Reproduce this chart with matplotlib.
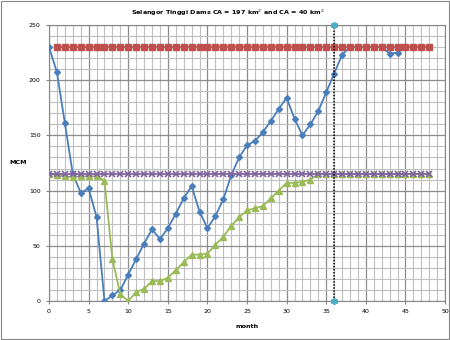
import numpy as np
import matplotlib
matplotlib.use("Agg")
import matplotlib.pyplot as plt
from matplotlib.patches import Rectangle
from matplotlib.ticker import MultipleLocator

# storage of the two dams (MCM) per month
months = list(range(0, 49))
big_dam = [230, 207, 161, 115, 98, 102, 76, 0, 5, 10,
           24, 38, 52, 65, 56, 66, 79, 93, 104, 81,
           66, 77, 92, 114, 130, 141, 145, 153, 163, 174,
           184, 165, 150, 160, 172, 189, 206, 223, 230, 230,
           230, 230, 230, 224, 225, 230, 230, 230, 230]
small_dam = [115, 114, 113, 112, 113, 113, 113, 109, 38, 6,
             0, 8, 11, 18, 18, 21, 28, 35, 42, 42,
             43, 51, 58, 68, 76, 82, 84, 86, 93, 100,
             107, 107, 108, 110, 115, 115, 115, 115, 115, 115,
             115, 115, 115, 115, 115, 115, 115, 115, 115]
cap_months = list(range(1, 49))
big_cap = [230] * len(cap_months)
small_cap = [115] * len(months)
marker_month = [36, 36]
marker_level = [0, 250]

fig = plt.figure(figsize=(4.5, 3.4), dpi=100)
ax = fig.add_axes([0.109, 0.1147, 0.88, 0.8118])

ax.plot(months, big_dam, color="#4A7EBB", lw=1.3, marker="D", ms=3,
        zorder=3)
ax.plot(months, small_dam, color="#9BBB59", lw=1.3, marker="^", ms=4,
        zorder=4)
ax.plot(cap_months, big_cap, color="#C0504D", lw=1.2, marker="s", ms=4.2,
        mec="#C0504D", zorder=5)
ax.plot(months, small_cap, color="#8064A2", lw=1.3, marker="x", ms=4,
        mew=1.2, zorder=5)
ax.plot(marker_month, marker_level, color="black", lw=1.1, ls=(0, (1, 1)),
        marker=(6, 2, 0), ms=5, mec="#4BACC6", mew=1.2, zorder=6,
        clip_on=False)

ax.set_xlim(0, 50)
ax.set_ylim(0, 250)
ax.xaxis.set_major_locator(MultipleLocator(5))
ax.xaxis.set_minor_locator(MultipleLocator(1))
ax.yaxis.set_major_locator(MultipleLocator(50))
ax.yaxis.set_minor_locator(MultipleLocator(10))
ax.grid(which="major", color="#8c8c8c", lw=0.9)
ax.grid(which="minor", color="#c0c0c0", lw=0.8)
ax.set_axisbelow(True)
ax.tick_params(which="both", length=2, labelsize=4.5, color="#868686", pad=4)
ax.tick_params(which="minor", length=0)
for s in ax.spines.values():
    s.set_color("#868686")
    s.set_linewidth(0.8)

fig.text(0.507, 0.962, "Selangor Tinggi Dams CA = 197 km$^2$ and CA = 40 km$^2$",
         fontsize=4.6, fontweight="bold", ha="center", va="center")
ax.set_xlabel("month", fontsize=4.6, fontweight="bold", labelpad=7)
ax.set_ylabel("MCM", fontsize=4.6, fontweight="bold", rotation=0, labelpad=8,
              va="center")

fig.patches.append(Rectangle((0.002, 0.004), 0.996, 0.993,
                             transform=fig.transFigure, fill=False,
                             edgecolor="#868686", lw=0.8))

fig.savefig("out.png", dpi=100)
